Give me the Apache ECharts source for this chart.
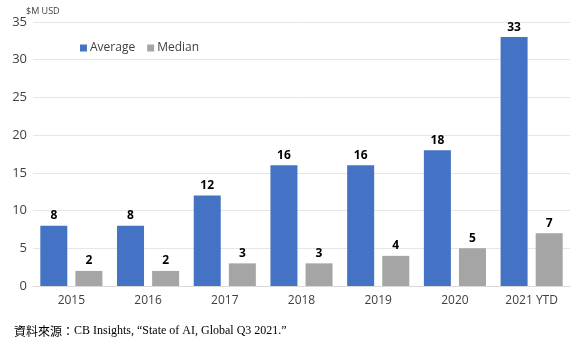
<!DOCTYPE html>
<html><head><meta charset="utf-8">
<script src="https://cdn.jsdelivr.net/npm/echarts@6/dist/echarts.min.js"></script>
<style>html,body{margin:0;padding:0;background:#fff}#c{width:578px;height:346px}</style>
</head><body><div id="c"></div>
<script>
const categories = ['2015','2016','2017','2018','2019','2020','2021 YTD'];
const averageValues = [8, 8, 12, 16, 16, 18, 33];
const medianValues = [2, 2, 3, 3, 4, 5, 7];
const yTicks = [0, 5, 10, 15, 20, 25, 30, 35];
const unitLabel = '$M USD';
const sourceCJK = '資料來源：';
const sourceText = 'CB Insights, “State of AI, Global Q3 2021.”';

const chart = echarts.init(document.getElementById('c'));
const labelStyle = {show:true, position:'top', fontWeight:'bold', fontSize:12, color:'#000', fontFamily:'Open Sans', distance:4};
chart.setOption({
  animation:false,
  title:{
    text:'{a|'+sourceCJK+'}{b|'+sourceText+'}',
    left:9, top:320,
    textStyle:{fontWeight:'normal', rich:{
      a:{fontFamily:'Noto Sans CJK TC', fontSize:12, color:'#000', fontWeight:'normal'},
      b:{fontFamily:'Liberation Serif', fontSize:12, color:'#000', fontWeight:'normal'}
    }}
  },
  graphic:[{type:'text', left:26, top:7, style:{text:unitLabel, fontSize:9, fill:'#404040', fontFamily:'Open Sans'}}],
  legend:{
    data:['Average','Median'], left:75, top:37, itemWidth:7, itemHeight:7, itemGap:12,
    icon:'rect',
    textStyle:{fontSize:12, color:'#404040', fontFamily:'Open Sans', padding:[0,0,0,-2]}
  },
  grid:{left:33, right:8, top:22, bottom:60, containLabel:false},
  xAxis:{
    type:'category', data:categories,
    axisLine:{lineStyle:{color:'#d9d9d9'}}, axisTick:{show:false},
    axisLabel:{fontSize:12, color:'#404040', fontFamily:'Open Sans', margin:9}
  },
  yAxis:{
    type:'value', min:yTicks[0], max:yTicks[yTicks.length-1], interval:5,
    axisLine:{show:false}, axisTick:{show:false},
    splitLine:{lineStyle:{color:'#e6e6e6'}},
    axisLabel:{fontSize:13, color:'#404040', fontFamily:'Open Sans', margin:6}
  },
  series:[
    {name:'Average', type:'bar', data:averageValues, barWidth:27, barGap:'30%', itemStyle:{color:'#4472C4'}, label:labelStyle},
    {name:'Median', type:'bar', data:medianValues, barWidth:27, itemStyle:{color:'#A5A5A5'}, label:labelStyle}
  ]
});
</script></body></html>
